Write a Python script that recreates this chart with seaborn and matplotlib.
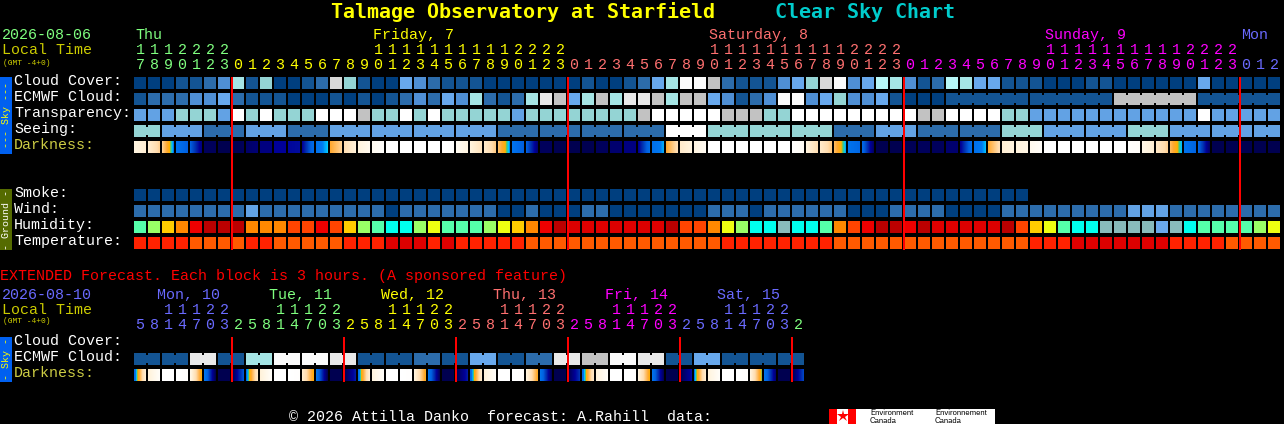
import numpy as np
import matplotlib
matplotlib.use("Agg")
import matplotlib.pyplot as plt
from matplotlib.colors import ListedColormap, LinearSegmentedColormap
from matplotlib.patches import Rectangle
import seaborn as sns

W, H = 1284, 424
MONO = "Liberation Mono"
BOLD = "DejaVu Sans Mono"

# ---------- palettes (code -> colour) ----------
sky_colours = ["#003f7f", "#135493", "#2c6cab", "#4f8fd4", "#68a8ec", "#94d4d4", "#a5e5e5",
               "#b8f8f8", "#c2c2c2", "#d8d8d8", "#e9e9e9", "#fbfbfb", "#ffffff", "#62a2e4"]
humidity_colours = ["#bb0000", "#dd0000", "#ee0000", "#ff4400", "#ff8800", "#ffcc00", "#eeff11",
                    "#99ff66", "#55ffaa", "#00ffee", "#88bbbb", "#6aa9ec"]
temperature_colours = ["#dd0000", "#ff2200", "#ff5a00"]

# ---------- hourly forecast ----------
cloud_cover = [0,0,0,1,1,2,3,6,1,5, 0,0,1,2,9,5,1,0,0,4, 3,2,1,1,1,0,0,0,0,0,
               0,0,1,0,0,1,2,4,6,11, 11,8,2,1,1,1,3,4,5,9, 11,3,4,7,6,3,1,2,7,6,
               4,4,1,1,1,0,0,0,1,1, 0,0,0,0,0,0,4,0,0,0, 0,0]
ecmwf_cloud = [1,2,2,2,3,3,4,2,1,1, 1,0,0,0,1,0,1,0,1,2, 3,2,4,3,6,2,1,2,6,10,
               8,4,6,8,6,10,10,8,6,8, 8,4,3,1,2,3,11,11,3,4, 5,3,3,4,1,0,0,0,1,1,
               1,1,1,1,1,1,1,1,1,1, 8,8,8,8,8,8,1,1,1,1, 1,1]
ecmwf_groups = [1] * 58 + [6, 6, 6, 6]
transparency = [13,13,13,5,5,5,13,12,5,12, 5,5,5,12,12,12,8,5,5,12, 5,12,5,5,5,5,5,13,5,5,
                5,5,5,5,5,5,8,12,12,12, 12,12,8,8,8,5,5,12,12,12, 12,12,12,12,12,12,8,8,12,12,
                12,12,5,5,13,13,13,13,13,13, 13,13,13,13,13,13,12,13,13,13, 13,13]
seeing = [5,5, 13,13,13, 2,2,2, 13,13,13, 2,2,2, 13,13,13, 13,13,13, 13,13,13, 13,13,13,
          2,2,2, 2,2,2, 2,2,2, 2,2,2, 12,12,12, 5,5,5, 5,5,5, 5,5,5, 2,2,2, 13,13,13,
          2,2,2, 2,2,2, 5,5,5, 13,13,13, 13,13,13, 5,5,5, 13,13,13, 13,13,13, 13,13]
seeing_groups = [2] + [3] * 26 + [2]
smoke = [0] * 64 + [np.nan] * 18
wind = [2,2,2,2,2,2,2,2,13,2, 2,2,2,2,2,2,2,2,0,2, 2,2,2,2,2,2,0,0,2,0,
        0,0,2,2,0,0,0,0,0,0, 0,2,2,2,0,2,2,2,2,2, 2,0,0,0,2,2,2,2,0,0,
        0,0,2,2,2,2,2,2,2,2, 2,13,13,13,2,2,2,2,2,2, 2,2]
humidity = [8,7,5,4,2,0,0,0,4,4, 4,3,3,2,3,5,7,8,9,9, 7,6,8,8,8,7,6,5,4,2,
            0,1,1,1,1,1,1,1,0,3, 3,4,6,7,9,9,10,9,9,8, 4,3,2,0,0,2,0,1,1,1,
            1,1,0,3,5,6,8,9,9,10, 10,10,10,11,10,9,8,8,8,8, 7,6]
temperature = [1,1,1,1,2,2,2,2,1,1, 2,2,2,2,2,1,1,1,0,0, 0,1,0,1,1,1,1,1,2,2,
               2,2,2,2,2,2,2,2,2,2, 2,2,1,1,1,1,1,1,1,1, 2,2,2,2,2,2,2,2,2,2,
               2,2,2,2,1,1,1,0,0,0, 0,0,0,0,1,1,1,1,2,2, 2,2]
# darkness level at left / right end of each block (0 day ... 6 black night)
dark_start = [.9,1.3,2.2,4,4.5,5.9,6,6,5.8,5.6, 5.4,5.35,5.4,4,2.9,1.9,1,.4,0,0,
              0,0,0,.4,1,1.4,2.5,4,4.5,5.9, 6,6,6,5.9,5.75,5.6,5.45,4.1,2.9,1.4,
              .9,0,0,0,0,0,0,.1,1,1.4, 2.6,4,4.3,6,6,5.95,5.9,5.9,5.75,5.45,
              4.1,2.9,1.2,1,.5,0,0,0,0,0, 0,.1,.7,1.5,2.6,4,4.4,6,6,6, 6,6]
dark_end = [1.2,2.2,3.9,4.5,5.6,5.9,6,5.9,5.7,5.6, 5.4,5.3,4.2,3.7,2.2,1.1,.5,.1,0,0,
            0,0,.1,.9,1.7,2.3,3.8,4.5,5.7,5.9, 6,6,6,5.9,5.75,5.6,4.2,3.75,1.9,1,
            .4,0,0,0,0,0,0,.3,1.9,2.3, 3.75,4.3,5.8,6,6,5.95,5.9,5.9,5.75,4.2,
            3.72,1.9,1,.8,.2,0,0,0,0,0, 0,.2,1.2,2.2,3.72,4.4,5.8,6,6,6, 6,6]
hour_tens = "1112222" + "          11111111112222" * 3 + "   "
hour_units = "7890123" + "012345678901234567890123" * 3 + "012"
day_spans = [7, 24, 24, 24, 3]
day_colours = ["#7fff7f", "#ffff00", "#ff7070", "#ff00ff", "#6a6aff"]
day_names = ["Thu", "Friday, 7", "Saturday, 8", "Sunday, 9", "Mon"]
day_label_cols = [0, 17, 41, 65, 79]

# ---------- extended forecast ----------
ext_ecmwf = [1,1, 1,1, 10,10, 1,1, 6,6, 11,11, 11,11, 10,10, 1,1, 1,1, 2,2, 1,1,
             4,4, 1,1, 2,2, 10,10, 8,8, 11,11, 10,10, 1,1, 4,4, 1,1, 1,1, 1,1]
ext_groups = [2] * 24
ext_dark_start = [4.2,1.1,0,0,.8,3.9,6,6, 4,1.1,0,0,1.3,4,6,6, 4.1,1,0,0,1,4,6,6,
                  4.3,1.1,0,0,1,4,6,6, 4.2,1,0,0,1,4,6,6, 3.9,1,0,0,1,4,6,6]
ext_dark_end = [1.2,.2,0,.1,3.2,6,6,4.6, 1.5,.2,0,.1,3.2,6,6,5.2, 1.2,.2,0,.1,3.1,5.9,6,5.2,
                1.4,.2,0,.1,3,5.9,6,5, 1.5,.2,0,.1,3.2,5.9,6,5.3, 1.3,.2,0,.1,3.4,5.7,6,4.8]
ext_tens = "  11122" + "   11122" * 5 + " "
ext_units = "5814703" + "25814703" * 5 + "2"
ext_spans = [7, 8, 8, 8, 8, 8, 1]
ext_colours = ["#6a6aff", "#7fff7f", "#ffff00", "#ff7070", "#ff00ff", "#6a6aff", "#7fff7f"]
ext_names = ["Mon, 10", "Tue, 11", "Wed, 12", "Thu, 13", "Fri, 14", "Sat, 15"]
ext_label_x = [157, 269, 381, 493, 605, 717]

for row in (cloud_cover, ecmwf_cloud, transparency, seeing, smoke, wind, humidity, temperature,
            dark_start, dark_end, list(hour_tens), list(hour_units)):
    assert len(row) == 82, len(row)
for row in (ext_ecmwf, ext_dark_start, ext_dark_end, list(ext_tens), list(ext_units)):
    assert len(row) == 48, len(row)

dark_anchors = [(0, "#ffffff"), (1, "#fff3dd"), (2, "#ffdcae"), (2.9, "#ffa830"), (3.3, "#ffb000"),
                (3.5, "#40c880"), (3.7, "#00c8ff"), (3.85, "#0078f0"), (4.5, "#0060e0"),
                (5, "#0030b0"), (5.4, "#000098"), (5.6, "#000080"), (6, "#000050")]
dark_cmap = LinearSegmentedColormap.from_list("dark", [(v / 6, c) for v, c in dark_anchors], N=512)

sns.set_theme(style="dark", rc={"axes.facecolor": "black", "figure.facecolor": "black",
                                "text.hinting": "native"})
fig = plt.figure(figsize=(W / 100, H / 100), dpi=100, facecolor="black")
bg = fig.add_axes([0, 0, 1, 1], zorder=5)
bg.set_xlim(0, W)
bg.set_ylim(H, 0)
bg.axis("off")
bg.patch.set_alpha(0)


def pix_axes(x, y, w, h):
    return fig.add_axes([x / W, 1 - (y + h) / H, w / W, h / H], zorder=1)


def strip_heatmap(arr, y, **kw):
    ax = pix_axes(134, y, arr.shape[1], 12)
    sns.heatmap(arr, ax=ax, cbar=False, xticklabels=False, yticklabels=False, mask=np.isnan(arr), **kw)
    ax.set_facecolor("black")


def block_row(values, y, colours):
    strip = []
    for v in values:
        strip.extend([v] * 12 + [np.nan, np.nan])
    strip_heatmap(np.array(strip, dtype=float)[None, :], y, cmap=ListedColormap(colours),
                  vmin=-.5, vmax=len(colours) - .5)


def dark_row(starts, ends, y):
    strip = []
    for a, b in zip(starts, ends):
        strip.extend(np.linspace(a, b, 12))
        strip.extend([np.nan, np.nan])
    strip_heatmap(np.array(strip)[None, :], y, cmap=dark_cmap, vmin=0, vmax=6)


def rect(x, y, w, h, c, z=2):
    bg.add_patch(Rectangle((x, y), w, h, fc=c, ec="none", lw=0, antialiased=True, snap=False, zorder=z))


def connectors(values, groups, y):
    k = 0
    for g in groups:
        for i in range(k, k + g - 1):
            rect(146 + 14 * i, y + 2, 2, 8, sky_colours[values[i]])
        k += g


def txt(x, y, s, color="white", size=10.8, family=MONO, **kw):
    bg.text(x, y, s, color=color, fontsize=size, family=family, va="baseline", zorder=6, **kw)


def hours(tens, units, spans, colours, y_tens, y_units):
    cols = [c for c, n in zip(colours, spans) for _ in range(n)]
    for k, c in enumerate(cols):
        if tens[k].strip():
            txt(140 + 14 * k, y_tens, tens[k], color=c, ha="center")
        txt(140 + 14 * k, y_units, units[k], color=c, ha="center")


# ---------- rows ----------
block_row(cloud_cover, 77, sky_colours)
block_row(ecmwf_cloud, 93, sky_colours)
block_row(transparency, 109, sky_colours)
block_row(seeing, 125, sky_colours)
dark_row(dark_start, dark_end, 141)
block_row(smoke, 189, sky_colours)
block_row(wind, 205, sky_colours)
block_row(humidity, 221, humidity_colours)
block_row(temperature, 237, temperature_colours)
block_row(ext_ecmwf, 353, sky_colours)
dark_row(ext_dark_start, ext_dark_end, 369)

connectors(ecmwf_cloud, ecmwf_groups, 93)
connectors(seeing, seeing_groups, 125)
connectors(ext_ecmwf, ext_groups, 353)

# ---------- midnight markers ----------
for k in (7, 31, 55, 79):
    rect(133 + 14 * k, 77, 2, 173, "#ff0000", z=3)
for k in (7, 15, 23, 31, 39, 47):
    rect(133 + 14 * k, 337, 2, 45, "#ff0000", z=3)

# ---------- side bars ----------
for y, h, c, tc, s in ((77, 77, "#0060f0", "#ffff00", "--- Sky ---"),
                       (189, 61, "#556b00", "white", "- Ground -"),
                       (337, 45, "#0060f0", "#ffff00", "- Sky -")):
    rect(0, y, 12, h, c)
    bg.text(6, y + h / 2, s, color=tc, fontsize=7.2, family=MONO, rotation=90,
            ha="center", va="center", zorder=6)

# ---------- headers ----------
txt(331, 18, "Talmage Observatory at Starfield", color="#ffff00", size=14.4, family=BOLD, weight="bold")
txt(775, 18, "Clear Sky Chart", color="#00cccc", size=14.4, family=BOLD, weight="bold")

txt(2, 39, "2026-08-06", color="#7fff7f")
txt(2, 54, "Local Time", color="#cccc00")
txt(3, 65, "(GMT -4+0)", color="#cccc00", size=5.8)
for col, name, c in zip(day_label_cols, day_names, day_colours):
    txt(134 + 14 * col + 1, 39, name, color=c)
hours(hour_tens, hour_units, day_spans, day_colours, 54, 69)

for y, name, c in ((85, "Cloud Cover:", "white"), (101, "ECMWF Cloud:", "white"), (117, "Transparency:", "white"),
                   (133, "Seeing:", "white"), (149, "Darkness:", "#cccc44"), (197, "Smoke:", "white"),
                   (213, "Wind:", "white"), (229, "Humidity:", "white"), (245, "Temperature:", "white"),
                   (345, "Cloud Cover:", "white"), (361, "ECMWF Cloud:", "white"), (377, "Darkness:", "#cccc44")):
    txt(14, y, name, color=c)

txt(0, 280, "EXTENDED Forecast. Each block is 3 hours. (A sponsored feature)", color="#ff0000")
txt(2, 299, "2026-08-10", color="#6a6aff")
txt(2, 314, "Local Time", color="#cccc00")
txt(3, 323, "(GMT -4+0)", color="#cccc00", size=5.8)
for x, name, c in zip(ext_label_x, ext_names, ext_colours):
    txt(x, 299, name, color=c)
hours(ext_tens, ext_units, ext_spans, ext_colours, 314, 329)

# ---------- footer ----------
txt(289, 421, "\u00a9 2026 Attilla Danko  forecast: A.Rahill  data:")
rect(829, 409, 166, 15, "white")
rect(829, 409, 8, 15, "#ff0000", z=3)
rect(848, 409, 8, 15, "#ff0000", z=3)
bg.plot([842.5], [416], marker="*", ms=9, color="#ff0000", mew=0, zorder=3)
for x, s in ((870, "Environment"), (935, "Environnement")):
    bg.text(x, 415, s, color="black", fontsize=5.6, family="Liberation Sans", va="baseline", zorder=6)
for x in (870, 935):
    bg.text(x, 423, "Canada", color="black", fontsize=5.6, family="Liberation Sans", va="baseline", zorder=6)

bg.set_xlim(0, W)
bg.set_ylim(H, 0)
fig.savefig("out.png", dpi=100, facecolor="black")
